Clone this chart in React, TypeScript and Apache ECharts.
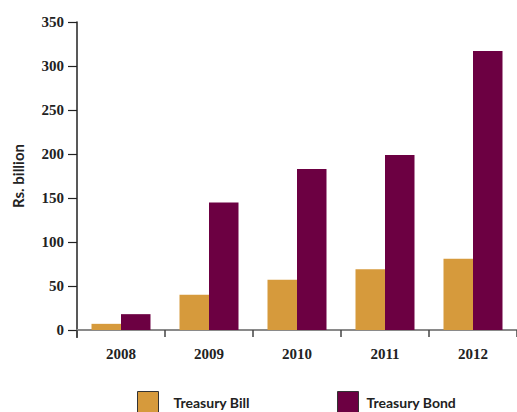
import React, { useEffect, useRef } from "react";
import * as echarts from "echarts";

const years = ["2008", "2009", "2010", "2011", "2012"];
const treasuryBill = [7, 40, 57, 69, 81];
const treasuryBond = [18, 145, 183, 199, 317];
const yTicks = { min: 0, max: 350, interval: 50 };

const SANS = "Lato";
const SERIF = "Liberation Serif";
const TXT = "#222";

export default function App() {
  const ref = useRef<HTMLDivElement>(null);
  useEffect(() => {
    document.body.style.margin = "0";
    const chart = echarts.init(ref.current!, null, { renderer: "svg" });
    const legendBase = {
      top: 391,
      padding: 0,
      itemWidth: 21,
      itemHeight: 21,
      icon: "rect",
      itemStyle: { borderColor: "#333", borderWidth: 1 },
    };
    chart.setOption({
      animation: false,
      textStyle: { fontFamily: SANS },
      grid: { left: 77, right: 0, top: 22, bottom: 82 },
      legend: [
        {
          ...legendBase,
          data: ["Treasury Bill"],
          left: 137,
          textStyle: { fontFamily: SANS, fontWeight: "bold", fontSize: 14, color: TXT, padding: [0, 0, 0, 10] },
        },
        {
          ...legendBase,
          data: ["Treasury Bond"],
          left: 337,
          textStyle: { fontFamily: SANS, fontWeight: "bold", fontSize: 14, color: TXT, padding: [0, 0, 0, 3] },
        },
      ],
      graphic: [
        {
          type: "line",
          shape: { x1: 77, y1: 330, x2: 77, y2: 338 },
          style: { stroke: "#222", lineWidth: 1.5 },
        },
      ],
      xAxis: {
        type: "category",
        data: years,
        axisLine: { lineStyle: { color: "#8a8a8a", width: 2 } },
        axisTick: { show: true, length: 7, lineStyle: { color: "#444", width: 1.5 } },
        axisLabel: { margin: 16, fontFamily: SERIF, fontWeight: "bold", fontSize: 15, color: TXT },
      },
      yAxis: {
        type: "value",
        min: yTicks.min,
        max: yTicks.max,
        interval: yTicks.interval,
        name: "Rs. billion",
        nameLocation: "middle",
        nameGap: 52,
        nameTextStyle: { fontFamily: SANS, fontWeight: "bold", fontSize: 15, color: TXT },
        splitLine: { show: false },
        axisLine: { show: true, lineStyle: { color: "#222", width: 1.5 } },
        axisTick: { show: true, length: 9, lineStyle: { color: "#222", width: 1.2 } },
        axisLabel: { margin: 13, fontFamily: SERIF, fontWeight: "bold", fontSize: 15, color: TXT },
      },
      series: [
        {
          name: "Treasury Bill",
          type: "bar",
          data: treasuryBill,
          barWidth: 29.5,
          barGap: "0%",
          itemStyle: { color: "#D69A3C" },
        },
        {
          name: "Treasury Bond",
          type: "bar",
          data: treasuryBond,
          barWidth: 29.5,
          barGap: "0%",
          itemStyle: { color: "#6C0042" },
        },
      ],
    });
    return () => chart.dispose();
  }, []);
  return <div ref={ref} style={{ width: 517, height: 412 }} />;
}
